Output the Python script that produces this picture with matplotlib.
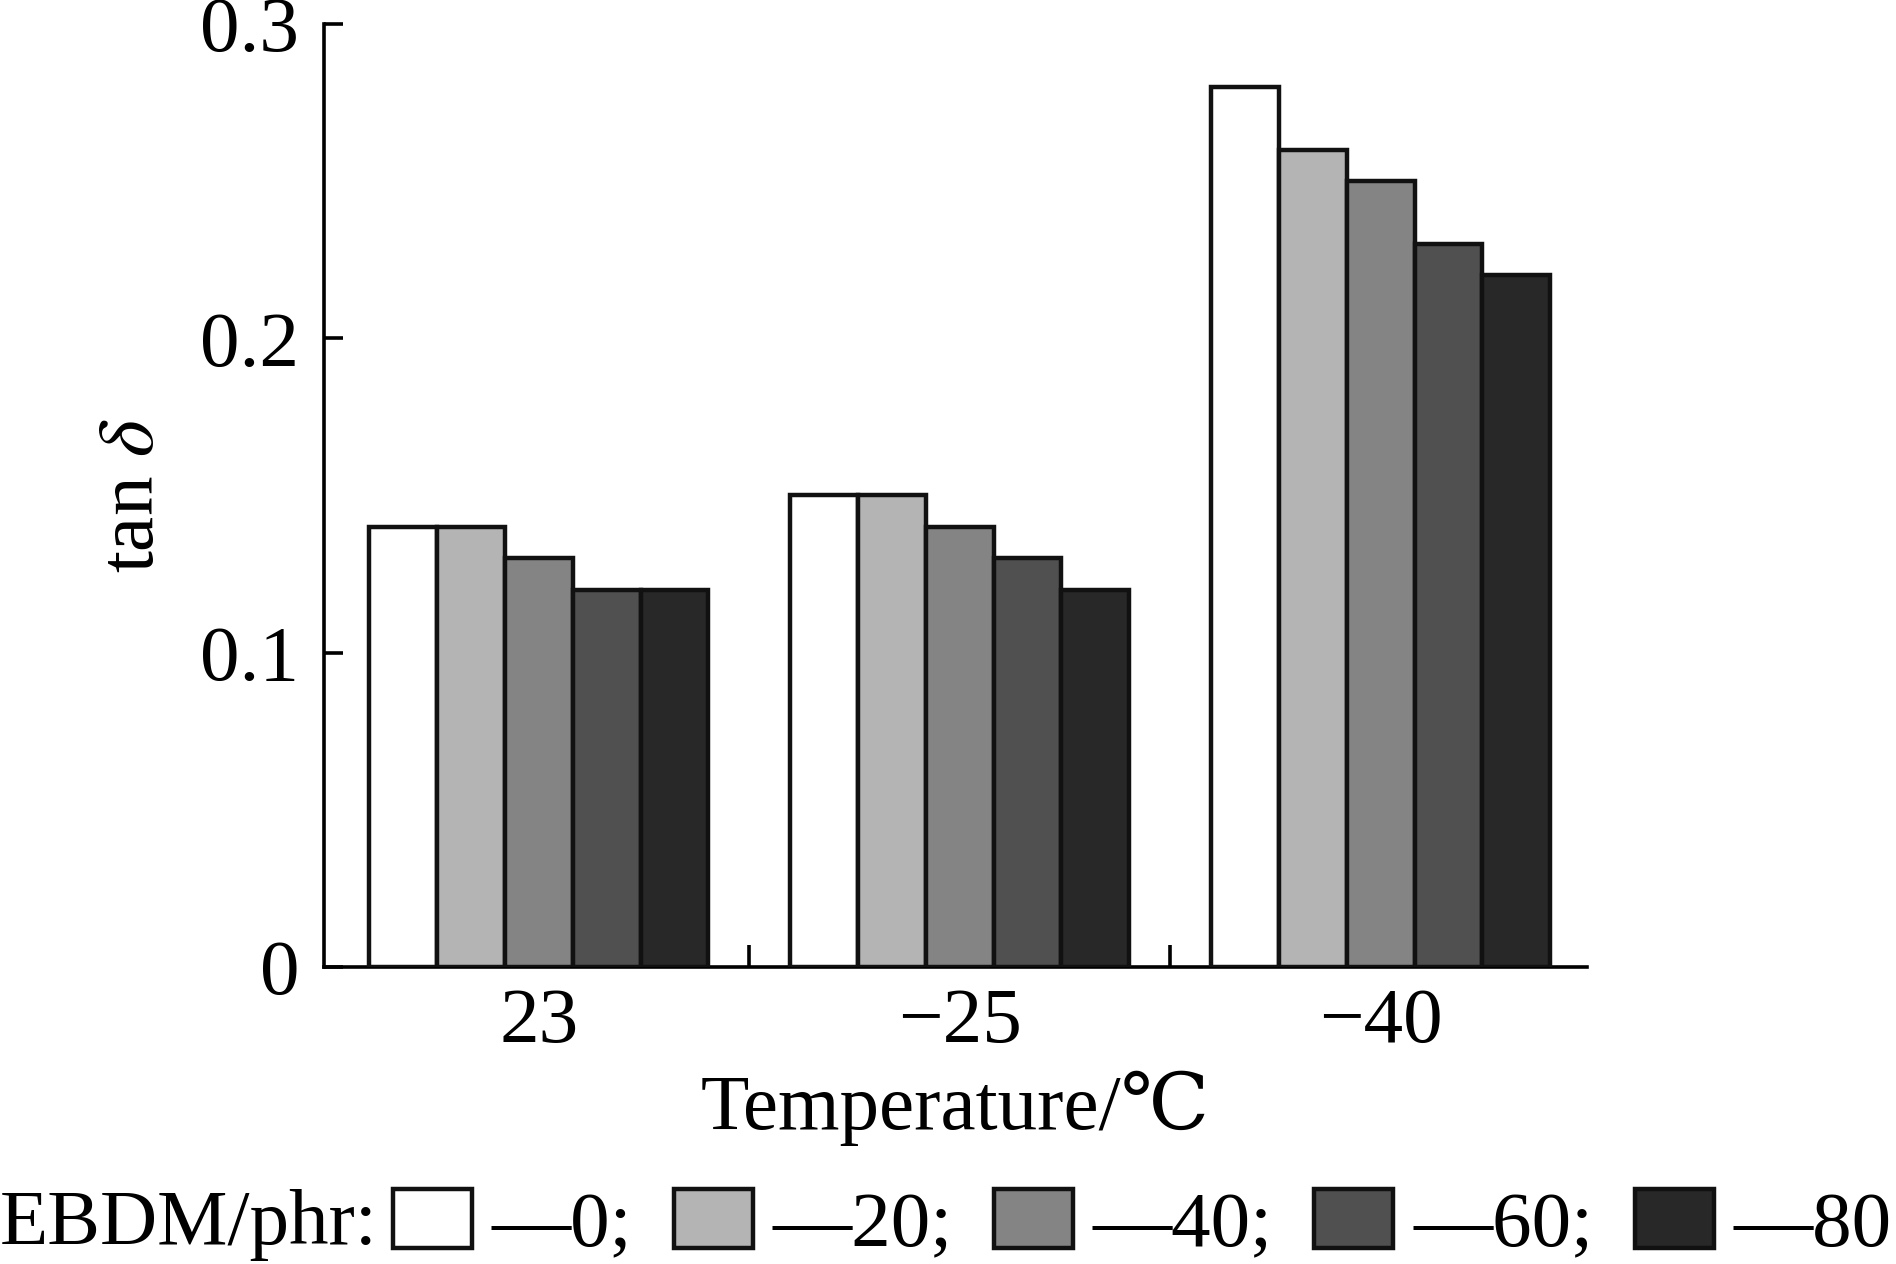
"""
tan delta of EBDM blends at three test temperatures, grouped bars.
"""

import matplotlib
matplotlib.use("Agg")
import matplotlib.pyplot as plt
from matplotlib.patches import Patch
from matplotlib.ticker import FixedLocator
import numpy as np

plt.rcParams["font.family"] = ["Liberation Serif", "DejaVu Serif", "Noto Sans CJK SC"]
plt.rcParams["mathtext.fontset"] = "stix"

temperatures = ["23", "\u221225", "\u221240"]
ebdm_phr = ["0", "20", "40", "60", "80"]
tan_delta = {
    "0":  [0.140, 0.150, 0.280],
    "20": [0.140, 0.150, 0.260],
    "40": [0.130, 0.140, 0.250],
    "60": [0.120, 0.130, 0.230],
    "80": [0.120, 0.120, 0.220],
}
colors = ["#ffffff", "#b4b4b4", "#848484", "#505050", "#282828"]

FS = 57
LW = 2.6
BAR_LW = 3.2

fig = plt.figure(figsize=(18.96, 12.64), dpi=100)
ax = fig.add_axes([0.171, 0.235, 0.666, 0.746])

x = np.arange(len(temperatures))
width = 0.161
for i, phr in enumerate(ebdm_phr):
    offset = (i - 2) * width
    ax.bar(x + offset, tan_delta[phr], width, color=colors[i],
           edgecolor="#111111", linewidth=BAR_LW, zorder=3)

ax.set_xlim(-0.51, 2.49)
ax.set_ylim(0, 0.3)
ax.set_yticks([0, 0.1, 0.2, 0.3])
ax.set_yticklabels(["0", "0.1", "0.2", "0.3"])
ax.set_xticks(x)
ax.set_xticklabels(temperatures)
ax.xaxis.set_minor_locator(FixedLocator([0.5, 1.5]))

ax.tick_params(axis="y", direction="in", length=14, width=LW, pad=18, labelsize=FS)
ax.tick_params(axis="x", which="major", length=0, pad=15, labelsize=FS)
ax.tick_params(axis="x", which="minor", direction="in", length=16, width=LW)

for side in ["top", "right"]:
    ax.spines[side].set_visible(False)
for side in ["left", "bottom"]:
    ax.spines[side].set_linewidth(LW)

ax.set_ylabel("tan $\\delta$", fontsize=FS, labelpad=22)
ax.set_xlabel("Temperature/\u2103", fontsize=FS, labelpad=8)

fig.text(0.0, 0.016, "EBDM/phr:", fontsize=FS, ha="left", va="baseline")
handles = [Patch(facecolor=c, edgecolor="#111111", linewidth=BAR_LW) for c in colors]
labels = ["\u2014" + p + ";" for p in ebdm_phr[:-1]] + ["\u2014" + ebdm_phr[-1]]
fig.legend(handles, labels, loc="lower left", bbox_to_anchor=(0.178, -0.043),
           ncol=5, frameon=False, fontsize=FS, handlelength=1.0, handleheight=0.78,
           handletextpad=0.25, columnspacing=0.52, borderpad=0.2)

fig.savefig("out.png", dpi=100)
